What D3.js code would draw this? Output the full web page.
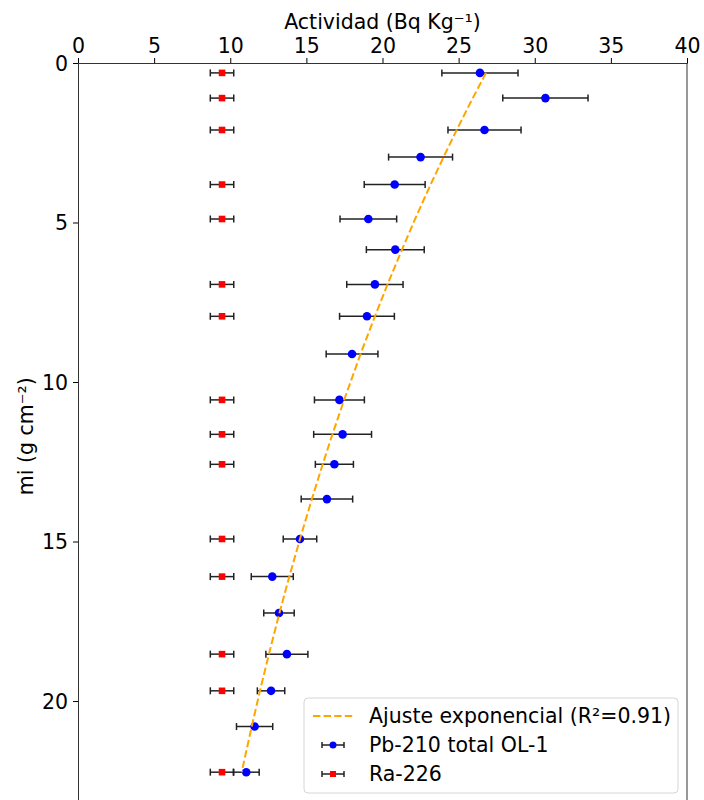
<!DOCTYPE html>
<html>
<head>
<meta charset="utf-8">
<script src="https://cdn.jsdelivr.net/npm/d3@7"></script>
<style>
  body { margin: 0; background: #fff; }
  svg { display: block; font-family: "DejaVu Sans", sans-serif; }
</style>
</head>
<body>
<svg id="chart"></svg>
<script>
// Page size
const width = 704;
const height = 800;
const fontSize = 20.5;

// Plot area (bottom runs past the window, like the cropped original)
const margin = { top: 63, left: 78, right: 17 };
const plotBottom = 809.5;

// Depths (mi, g cm^-2) of the Pb-210 samples
const depths = [0.31, 1.10, 2.10, 2.95, 3.81, 4.89, 5.85, 6.94, 7.94, 9.12, 10.56,
                11.64, 12.58, 13.67, 14.92, 16.10, 17.24, 18.53, 19.68, 20.80, 22.23];
// Pb-210 total activity and its error
const pbValues = [26.4, 30.7, 26.7, 22.5, 20.8, 19.07, 20.84, 19.5, 18.98, 18.0, 17.17,
                  17.38, 16.84, 16.35, 14.58, 12.76, 13.2, 13.72, 12.68, 11.6, 11.05];
const pbErrors = [2.5, 2.8, 2.4, 2.1, 2.0, 1.86, 1.9, 1.85, 1.8, 1.7, 1.64,
                  1.9, 1.25, 1.69, 1.1, 1.38, 1.0, 1.38, 0.9, 1.19, 0.85];
// Ra-226 samples
const raDepths = [0.31, 1.10, 2.10, 3.81, 4.89, 6.94, 7.94, 10.56, 11.64, 12.58,
                  14.92, 16.10, 18.53, 19.68, 22.23];
const raValues = [9.46, 9.46, 9.46, 9.46, 9.46, 9.46, 9.46, 9.46, 9.46, 9.46,
                  9.46, 9.46, 9.46, 9.46, 9.46];
const raErrors = [0.77, 0.77, 0.77, 0.77, 0.77, 0.77, 0.77, 0.77, 0.77, 0.77,
                  0.77, 0.77, 0.77, 0.77, 0.77];
// Exponential fit read at each sample depth
const fitValues = [26.80, 25.93, 24.87, 24.01, 23.16, 22.14, 21.28, 20.33, 19.50, 18.56, 17.48,
                   16.71, 16.07, 15.36, 14.58, 13.88, 13.23, 12.54, 11.95, 11.41, 10.75];

const xTicks = [0, 5, 10, 15, 20, 25, 30, 35, 40];
const yTicks = [0, 5, 10, 15, 20];

const svg = d3.select("#chart")
    .attr("width", width)
    .attr("height", height);

const x = d3.scaleLinear().domain([0, 40]).range([margin.left, width - margin.right]);
const y = d3.scaleLinear().domain([0, 23.4]).range([margin.top, plotBottom]);

// Axes on top and left
const xAxis = svg.append("g")
    .attr("transform", `translate(0,${margin.top})`)
    .call(d3.axisTop(x).tickValues(xTicks).tickSize(5).tickPadding(5));
const yAxis = svg.append("g")
    .attr("transform", `translate(${margin.left},0)`)
    .call(d3.axisLeft(y).tickValues(yTicks).tickSize(5).tickPadding(5));

[xAxis, yAxis].forEach(g => {
    g.selectAll("text").attr("font-size", fontSize).attr("fill", "#000")
        .attr("font-family", "DejaVu Sans, sans-serif");
    g.selectAll("line").attr("stroke", "#000").attr("stroke-width", 1);
    g.select(".domain").attr("stroke", "#333").attr("stroke-width", 1);
});
yAxis.selectAll(".tick text").attr("dy", "0.36em");

// Right spine
svg.append("line")
    .attr("x1", x(40)).attr("x2", x(40))
    .attr("y1", margin.top).attr("y2", plotBottom)
    .attr("stroke", "#333").attr("stroke-width", 1);

// Axis labels
svg.append("text")
    .attr("x", (x(0) + x(40)) / 2).attr("y", 29)
    .attr("text-anchor", "middle").attr("font-size", fontSize)
    .text("Actividad (Bq Kg⁻¹)");
svg.append("text")
    .attr("transform", `translate(33,${(margin.top + plotBottom) / 2}) rotate(-90)`)
    .attr("text-anchor", "middle").attr("font-size", fontSize)
    .text("mi (g cm⁻²)");

// Error bar helper
function drawErrorBars(g, xs, errs, ys) {
    const capH = 3.5;
    xs.forEach((v, i) => {
        const yy = y(ys[i]);
        g.append("line")
            .attr("x1", x(v - errs[i])).attr("x2", x(v + errs[i]))
            .attr("y1", yy).attr("y2", yy);
        [v - errs[i], v + errs[i]].forEach(c => {
            g.append("line")
                .attr("x1", x(c)).attr("x2", x(c))
                .attr("y1", yy - capH).attr("y2", yy + capH);
        });
    });
    g.attr("stroke", "#222").attr("stroke-width", 1.5);
}

// Pb-210 error bars and markers
drawErrorBars(svg.append("g"), pbValues, pbErrors, depths);
svg.append("g").selectAll("circle")
    .data(pbValues)
    .enter()
    .append("circle")
    .attr("cx", d => x(d))
    .attr("cy", (d, i) => y(depths[i]))
    .attr("r", 4.3)
    .attr("fill", "blue");

// Ra-226 error bars and markers
drawErrorBars(svg.append("g"), raValues, raErrors, raDepths);
svg.append("g").selectAll("rect")
    .data(raValues)
    .enter()
    .append("rect")
    .attr("x", d => x(d) - 3.3)
    .attr("y", (d, i) => y(raDepths[i]) - 3.3)
    .attr("width", 6.6).attr("height", 6.6)
    .attr("fill", "red");

// Exponential fit
const fitLine = d3.line()
    .x(d => x(d))
    .y((d, i) => y(depths[i]));
svg.append("path")
    .datum(fitValues)
    .attr("d", fitLine)
    .attr("fill", "none")
    .attr("stroke", "orange")
    .attr("stroke-width", 2)
    .attr("stroke-dasharray", "7.4,3.2");

// Legend
const legend = svg.append("g").attr("transform", "translate(304,698)");
legend.append("rect")
    .attr("width", 374).attr("height", 95).attr("rx", 4)
    .attr("fill", "#fff").attr("fill-opacity", 0.8)
    .attr("stroke", "#d6d6d6");
legend.append("line")
    .attr("x1", 9).attr("x2", 49).attr("y1", 18).attr("y2", 18)
    .attr("stroke", "orange").attr("stroke-width", 2)
    .attr("stroke-dasharray", "7.4,3.2");
[{ y: 47, color: "blue", shape: "circle" }, { y: 76, color: "red", shape: "rect" }].forEach(e => {
    const g = legend.append("g").attr("stroke", "#222").attr("stroke-width", 1.5);
    g.append("line").attr("x1", 18).attr("x2", 40).attr("y1", e.y).attr("y2", e.y);
    g.append("line").attr("x1", 18).attr("x2", 18).attr("y1", e.y - 3).attr("y2", e.y + 3);
    g.append("line").attr("x1", 40).attr("x2", 40).attr("y1", e.y - 3).attr("y2", e.y + 3);
    if (e.shape === "circle") {
        legend.append("circle").attr("cx", 29).attr("cy", e.y).attr("r", 3.5).attr("fill", e.color);
    } else {
        legend.append("rect").attr("x", 26).attr("y", e.y - 3).attr("width", 6).attr("height", 6).attr("fill", e.color);
    }
});
const labels = ["Ajuste exponencial (R²=0.91)", "Pb-210 total OL-1", "Ra-226"];
labels.forEach((t, i) => {
    legend.append("text")
        .attr("x", 65).attr("y", 18 + i * 29)
        .attr("dy", "0.36em")
        .attr("font-size", fontSize)
        .text(t);
});
</script>
</body>
</html>
